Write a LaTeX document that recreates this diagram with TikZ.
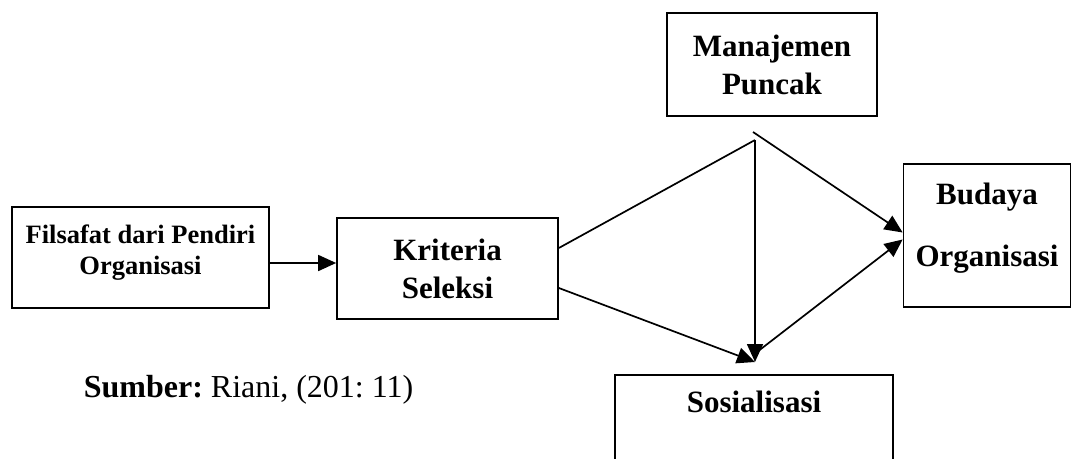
\documentclass[tikz,border=0pt]{standalone}
\usepackage{fontspec}
\setmainfont{Liberation Serif}
\usepackage{tikz}
\usetikzlibrary{positioning}
\usetikzlibrary{shapes,arrows,calc,arrows.meta}

\begin{document}
\begin{tikzpicture}[x=1pt, y=-1pt, line width=1.7pt,
    box/.style={draw, rectangle, align=center, inner sep=0pt, font=\fontsize{31}{36}\selectfont\bfseries},
    arr/.style={-{Triangle[length=18pt,width=16pt]}}]
    \useasboundingbox (0,0) rectangle (1076,458);
    \clip (0,0) rectangle (1076,458);
    % Nodes
    \node [box, minimum width=257pt, minimum height=101pt, font=\fontsize{26.5}{31}\selectfont\bfseries] (filsafat) at (140.5,257.5) {Filsafat dari Pendiri\\Organisasi\\[-25pt]\strut};
    \node [box, minimum width=221pt, minimum height=101pt] (kriteria) at (447.5,268.5) {Kriteria\\[2pt]Seleksi};
    \node [box, minimum width=210pt, minimum height=103pt] (manajemen) at (772,64.5) {Manajemen\\[2pt]Puncak};
    \node [box, minimum width=167pt, minimum height=143pt] (budaya) at (987,235.5) {Budaya\\[26pt]Organisasi\\[-26pt]\strut};
    \node [box, minimum width=278pt, text height=38pt, text depth=72pt, anchor=north] (sosialisasi) at (754,374) {Sosialisasi};
    \node [anchor=base west, inner sep=0pt, font=\fontsize{32}{38}\selectfont] (sumber) at (83,397) {\frenchspacing\textbf{Sumber:} Riani, (201: 11)};
    \coordinate (split) at (755,140);
    \coordinate (splitB) at (753,132);
    \coordinate (sosTop) at (755,362);
    \coordinate (sosMid) at (757,352);
    % Arrows
    \draw [arr] ([yshift=-5.5pt]filsafat.east) -- ([yshift=-5.5pt]filsafat.east -| kriteria.west);
    \draw ([yshift=20.5pt]kriteria.east) -- (split);
    \draw [arr] ([yshift=-19.5pt]kriteria.east) -- (sosTop);
    \draw [arr] (split) -- (sosTop);
    \draw [arr] (splitB) -- ([yshift=3pt]budaya.west);
    \draw [arr] (sosMid) -- ([yshift=-4pt]budaya.west);
\end{tikzpicture}
\end{document}
